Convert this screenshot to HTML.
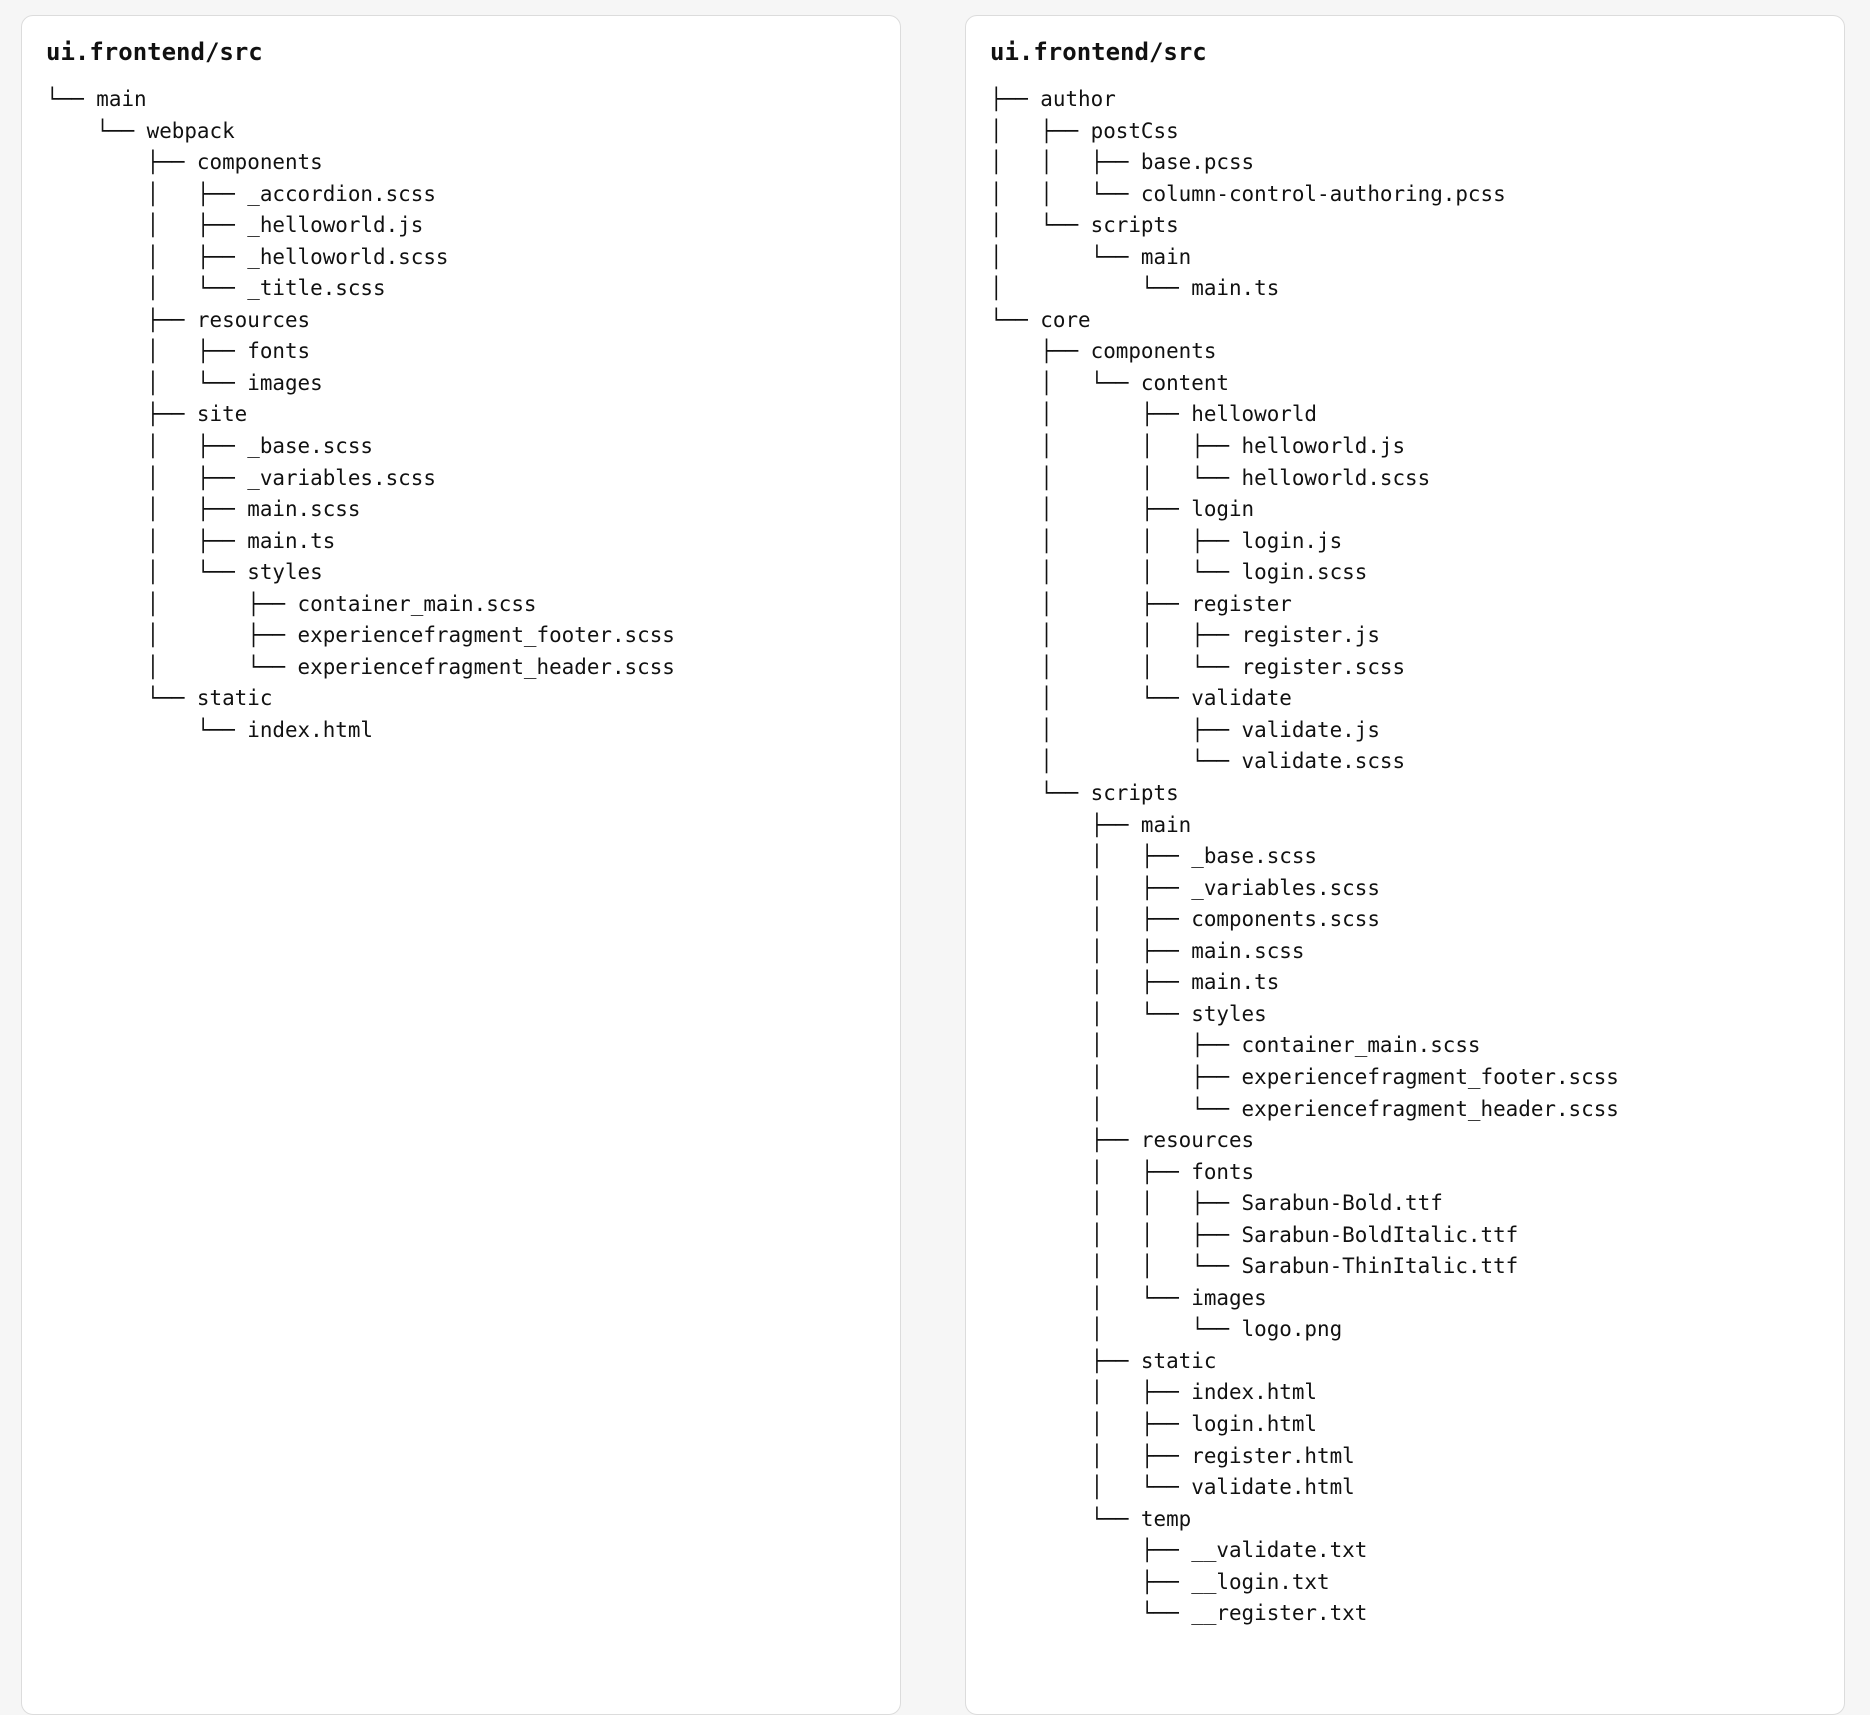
<!DOCTYPE html>
<html><head><meta charset="utf-8"><style>
html,body{margin:0;padding:0;background:#f6f6f6;width:1870px;height:1642px;overflow:hidden}
.p{position:absolute;top:15px;width:880px;height:1700px;background:#fff;border:1px solid #dcdcdc;border-radius:12px;box-sizing:border-box}
.t{position:absolute;left:24px;top:22px;font:bold 24px "DejaVu Sans Mono","Liberation Mono",monospace;color:#111}
pre{position:absolute;left:24px;top:68px;margin:0;font:20.9px/31.55px "DejaVu Sans Mono","Liberation Mono",monospace;color:#111}
</style></head><body>
<div class="p" style="left:21px"><div class="t">ui.frontend/src</div><pre>└── main
    └── webpack
        ├── components
        │   ├── _accordion.scss
        │   ├── _helloworld.js
        │   ├── _helloworld.scss
        │   └── _title.scss
        ├── resources
        │   ├── fonts
        │   └── images
        ├── site
        │   ├── _base.scss
        │   ├── _variables.scss
        │   ├── main.scss
        │   ├── main.ts
        │   └── styles
        │       ├── container_main.scss
        │       ├── experiencefragment_footer.scss
        │       └── experiencefragment_header.scss
        └── static
            └── index.html</pre></div>
<div class="p" style="left:965px"><div class="t">ui.frontend/src</div><pre>├── author
│   ├── postCss
│   │   ├── base.pcss
│   │   └── column-control-authoring.pcss
│   └── scripts
│       └── main
│           └── main.ts
└── core
    ├── components
    │   └── content
    │       ├── helloworld
    │       │   ├── helloworld.js
    │       │   └── helloworld.scss
    │       ├── login
    │       │   ├── login.js
    │       │   └── login.scss
    │       ├── register
    │       │   ├── register.js
    │       │   └── register.scss
    │       └── validate
    │           ├── validate.js
    │           └── validate.scss
    └── scripts
        ├── main
        │   ├── _base.scss
        │   ├── _variables.scss
        │   ├── components.scss
        │   ├── main.scss
        │   ├── main.ts
        │   └── styles
        │       ├── container_main.scss
        │       ├── experiencefragment_footer.scss
        │       └── experiencefragment_header.scss
        ├── resources
        │   ├── fonts
        │   │   ├── Sarabun-Bold.ttf
        │   │   ├── Sarabun-BoldItalic.ttf
        │   │   └── Sarabun-ThinItalic.ttf
        │   └── images
        │       └── logo.png
        ├── static
        │   ├── index.html
        │   ├── login.html
        │   ├── register.html
        │   └── validate.html
        └── temp
            ├── __validate.txt
            ├── __login.txt
            └── __register.txt</pre></div>
</body></html>
